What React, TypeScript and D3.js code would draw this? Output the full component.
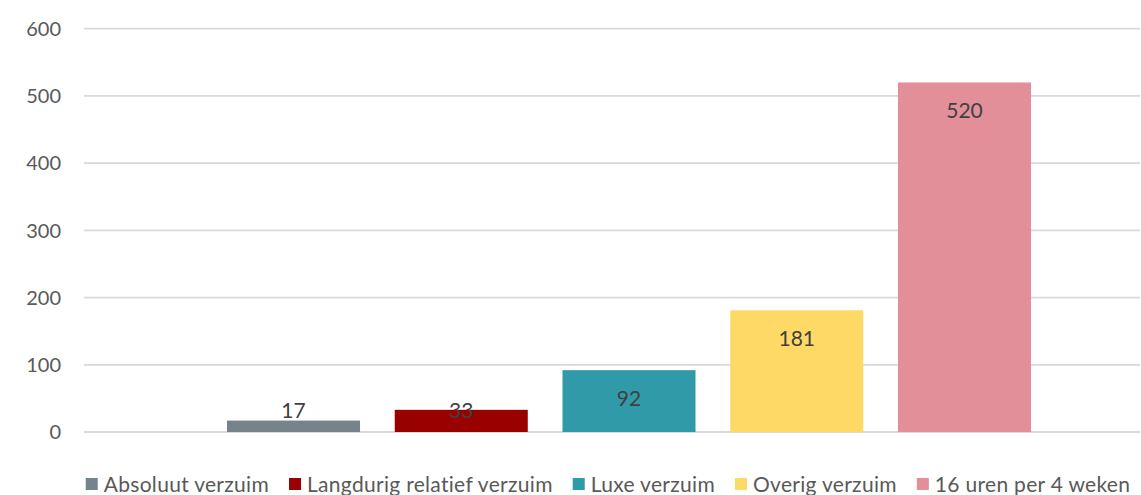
import React, { useRef, useEffect } from 'react';
import * as d3 from 'd3';

const series = ['Absoluut verzuim', 'Langdurig relatief verzuim', 'Luxe verzuim', 'Overig verzuim', '16 uren per 4 weken'];
const values = [17, 33, 92, 181, 520];
const colors = ['#76838a', '#990000', '#319aa9', '#ffd966', '#e28f9a'];
const yTicks = [0, 100, 200, 300, 400, 500, 600];

function App() {
    const ref = useRef<SVGSVGElement>(null);

    useEffect(() => {
        const width = 1141;
        const height = 495;
        const svg = d3.select(ref.current)
            .attr('width', width)
            .attr('height', height);
        svg.selectAll('*').remove();

        const font = 'Lato, "Open Sans", sans-serif';
        const labelColor = '#404040';
        const axisColor = '#595959';

        const y = d3.scaleLinear().domain([0, 600]).range([432, 28.7]);
        const x = d3.scaleBand().domain(series).range([227, 1031]).paddingInner(0.207).paddingOuter(0);

        // gridlines
        svg.append('g')
            .selectAll('line')
            .data(yTicks)
            .enter().append('line')
            .attr('x1', 84)
            .attr('x2', 1140)
            .attr('y1', d => y(d))
            .attr('y2', d => y(d))
            .attr('stroke', '#d9d9d9')
            .attr('stroke-width', 1.8);

        // y tick labels
        svg.append('g')
            .selectAll('text')
            .data(yTicks)
            .enter().append('text')
            .attr('x', 61)
            .attr('y', d => y(d))
            .attr('dy', '0.36em')
            .attr('text-anchor', 'end')
            .style('font-family', font)
            .style('font-size', '20px')
            .attr('fill', axisColor)
            .text(d => d);

        const data = series.map((s, i) => ({ name: s, value: values[i], color: colors[i] }));

        // bars
        svg.append('g')
            .selectAll('rect')
            .data(data)
            .enter().append('rect')
            .attr('x', d => x(d.name)!)
            .attr('y', d => y(d.value))
            .attr('width', x.bandwidth())
            .attr('height', d => y(0) - y(d.value))
            .attr('fill', d => d.color);

        // value labels (inside end, pushed up when the bar is too short)
        svg.append('g')
            .selectAll('text')
            .data(data)
            .enter().append('text')
            .attr('x', d => x(d.name)! + x.bandwidth() / 2)
            .attr('y', d => Math.min(y(d.value) + 28, y(0) - 22))
            .attr('dy', '0.36em')
            .attr('text-anchor', 'middle')
            .style('font-family', font)
            .style('font-size', '21px')
            .attr('fill', labelColor)
            .text(d => d.value);

        // legend
        const legend = svg.append('g');
        const items = legend.selectAll('g')
            .data(data)
            .enter().append('g');
        items.append('rect')
            .attr('width', 12)
            .attr('height', 12)
            .attr('y', 478)
            .attr('fill', d => d.color);
        items.append('text')
            .attr('x', 18)
            .attr('y', 484)
            .attr('dy', '0.36em')
            .style('font-family', font)
            .style('font-size', '21px')
            .style('letter-spacing', '0.3px')
            .attr('fill', axisColor)
            .text(d => d.name);

        const widths: number[] = [];
        items.each(function () {
            const t = d3.select(this).select('text').node() as SVGTextElement;
            widths.push(18 + t.getComputedTextLength());
        });
        const gap = 20;
        const total = d3.sum(widths) + gap * (widths.length - 1);
        let cx = 608 - total / 2;
        items.each(function (_d, i) {
            d3.select(this).attr('transform', 'translate(' + cx + ',0)');
            cx += widths[i] + gap;
        });
    }, []);

    return (
        <svg ref={ref} style={{ position: 'absolute', left: 0, top: 0, background: '#fff' }} />
    );
}

export default App;
